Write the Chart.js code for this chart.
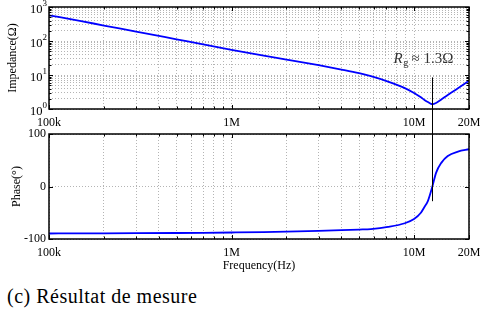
<!DOCTYPE html>
<html>
<head>
<meta charset="utf-8">
<script src="https://cdn.jsdelivr.net/npm/chart.js@4.4.1/dist/chart.umd.min.js"></script>
<style>
html, body { margin: 0; padding: 0; background: #fff; }
#wrap { position: relative; width: 480px; height: 313px; overflow: hidden; background: #fff; }
canvas { position: absolute; left: 0; }
#impCanvas { top: 0; }
#phaseCanvas { top: 122px; }
#caption { position: absolute; left: 7px; top: 286px; font: 20px/1 "Liberation Serif", "DejaVu Serif", serif; letter-spacing: 0.5px; color: #000; white-space: nowrap; }
</style>
</head>
<body>
<div id="wrap">
  <canvas id="impCanvas" width="480" height="132"></canvas>
  <canvas id="phaseCanvas" width="480" height="152"></canvas>
  <div id="caption">(c) Résultat de mesure</div>
</div>
<script>
const freq = [1e5, 1.5e5, 2e5, 3e5, 5e5, 7e5, 1e6, 1.5e6, 2e6, 3e6, 4e6, 5e6, 5.8e6, 7.2e6, 8.9e6,
              1e7, 1.09e7, 1.14e7, 1.19e7, 1.26e7, 1.32e7, 1.41e7, 1.53e7, 1.74e7, 2e7];
const impedance = [570, 385, 285, 190, 112, 79, 55, 37, 28.5, 19.5, 14.5, 11.3, 9.2, 6.4, 4.1,
                   2.95, 2.2, 1.85, 1.6, 1.38, 1.5, 1.9, 2.6, 4.1, 6.8];
const phase = [-89.5, -89.3, -89.2, -89.0, -88.6, -88.2, -87.6, -86.8, -86.0, -84.5, -83.2, -82, -81, -77, -70,
               -62, -50, -39, -28, 0, 26, 45, 58, 66.5, 71];

// axes
const xTickValues = [1e5, 2e5, 3e5, 4e5, 5e5, 6e5, 7e5, 8e5, 9e5,
                     1e6, 2e6, 3e6, 4e6, 5e6, 6e6, 7e6, 8e6, 9e6, 1e7, 2e7];
const xLabelValues = [1e5, 1e6, 1e7, 2e7];
const xLabelTexts = ['100k', '1M', '10M', '20M'];
const impTickValues = [1, 2, 3, 4, 5, 6, 7, 8, 9, 10, 20, 30, 40, 50, 60, 70, 80, 90,
                       100, 200, 300, 400, 500, 600, 700, 800, 900, 1000];
const impMajor = [1, 10, 100, 1000];
const impPowers = ['0', '1', '2', '3'];
const phaseTickValues = [-100, 0, 100];

// marker at the series resonance
const markerFreq = 1.26e7;
const markerImpTop = 8.5;
const markerPhaseBottom = -28;
const annotImp = 22;

const serif = '"Liberation Serif", "DejaVu Serif", serif';

function points(ys) {
    return freq.map(function(f, i) { return {x: f, y: ys[i]}; });
}

function xLabel(value) {
    const i = xLabelValues.indexOf(value);
    return i == -1 ? '' : xLabelTexts[i];
}

const framePlugin = {
    id: 'frame',
    afterDraw(chart, args, opts) {
        const ctx = chart.ctx;
        const a = chart.chartArea;
        const sx = chart.scales.x;
        const sy = chart.scales.y;
        ctx.save();
        ctx.setLineDash([]);
        ctx.strokeStyle = '#000';

        // inward tick marks on all four sides
        ctx.lineWidth = 1;
        ctx.beginPath();
        sx.ticks.forEach(function(t) {
            const px = Math.round(sx.getPixelForValue(t.value)) + 0.5;
            const len = xLabelValues.indexOf(t.value) != -1 ? 4 : 2.5;
            ctx.moveTo(px, a.bottom); ctx.lineTo(px, a.bottom - len);
            ctx.moveTo(px, a.top); ctx.lineTo(px, a.top + len);
        });
        sy.ticks.forEach(function(t) {
            const py = Math.round(sy.getPixelForValue(t.value)) + 0.5;
            const len = opts.yMajor.indexOf(t.value) != -1 ? 4 : 2.5;
            ctx.moveTo(a.left, py); ctx.lineTo(a.left + len, py);
            ctx.moveTo(a.right, py); ctx.lineTo(a.right - len, py);
        });
        ctx.stroke();

        ctx.lineWidth = 1.5;
        ctx.strokeRect(a.left, a.top, a.right - a.left, a.bottom - a.top);

        // marker line
        const mx = Math.round(sx.getPixelForValue(markerFreq)) + 0.5;
        const y0 = opts.markerFrom == null ? 0 : sy.getPixelForValue(opts.markerFrom);
        const y1 = opts.markerTo == null ? chart.height : sy.getPixelForValue(opts.markerTo);
        ctx.lineWidth = 1;
        ctx.beginPath();
        ctx.moveTo(mx, y0);
        ctx.lineTo(mx, y1);
        ctx.stroke();

        // 10^n labels
        if (opts.powers) {
            ctx.fillStyle = '#000';
            ctx.textBaseline = 'alphabetic';
            opts.yMajor.forEach(function(v, i) {
                const py = sy.getPixelForValue(v);
                ctx.font = '9px ' + serif;
                ctx.textAlign = 'right';
                const ew = ctx.measureText(opts.powers[i]).width;
                ctx.fillText(opts.powers[i], a.left - 2, py - 1.5);
                ctx.font = '12.5px ' + serif;
                ctx.fillText('10', a.left - 2 - ew, py + 6);
            });
        }

        // annotation
        if (opts.annot) {
            const by = sy.getPixelForValue(annotImp);
            let x = mx - 39;
            ctx.fillStyle = '#333';
            ctx.textAlign = 'left';
            ctx.textBaseline = 'alphabetic';
            ctx.font = 'italic 15px ' + serif;
            ctx.fillText('R', x, by);
            x += ctx.measureText('R').width + 0.5;
            ctx.font = '10.5px ' + serif;
            ctx.fillText('g', x, by + 3);
            x += ctx.measureText('g').width + 3;
            ctx.font = '15px ' + serif;
            ctx.fillText('\u2248 1.3\u03A9', x, by);
        }
        ctx.restore();
    }
};

function xScale(height, pad) {
    return {
        type: 'logarithmic',
        min: 1e5,
        max: 2e7,
        afterBuildTicks: function(s) {
            s.ticks = xTickValues.map(function(v) { return {value: v}; });
        },
        afterFit: function(s) {
            s.height = height;
            s.paddingLeft = 0;
            s.paddingRight = 0;
        },
        ticks: {
            autoSkip: false,
            maxRotation: 0,
            padding: pad,
            color: '#000',
            font: {family: serif, size: 12},
            callback: xLabel,
        },
        grid: {color: '#b4b4b4', lineWidth: 1, drawTicks: false},
        border: {display: false, dash: [1, 2]},
    };
}

const impConfig = {
    type: 'line',
    data: {
        datasets: [{
            data: points(impedance),
            borderColor: '#0000ff',
            borderWidth: 1.8,
            pointRadius: 0,
            cubicInterpolationMode: 'monotone',
            fill: false,
        }],
    },
    options: {
        responsive: false,
        animation: false,
        devicePixelRatio: 1,
        events: [],
        layout: {padding: {left: 0, right: 11, top: 7, bottom: 0}},
        plugins: {
            legend: {display: false},
            tooltip: {enabled: false},
            frame: {yMajor: impMajor, powers: impPowers, markerFrom: markerImpTop, markerTo: null, annot: true},
        },
        scales: {
            x: xScale(23, 6.2),
            y: {
                type: 'logarithmic',
                min: 1,
                max: 1000,
                afterBuildTicks: function(s) {
                    s.ticks = impTickValues.map(function(v) { return {value: v}; });
                },
                afterFit: function(s) {
                    s.width = 49;
                    s.paddingTop = 0;
                    s.paddingBottom = 0;
                },
                ticks: {display: false},
                title: {
                    display: true,
                    text: 'Impedance(\u03A9)',
                    color: '#000',
                    font: {family: serif, size: 12},
                    padding: {top: 6, bottom: 0},
                },
                grid: {color: '#b4b4b4', lineWidth: 1, drawTicks: false},
                border: {display: false, dash: [1, 2]},
            },
        },
    },
    plugins: [framePlugin],
};

const phaseConfig = {
    type: 'line',
    data: {
        datasets: [{
            data: points(phase),
            borderColor: '#0000ff',
            borderWidth: 1.8,
            pointRadius: 0,
            cubicInterpolationMode: 'monotone',
            fill: false,
        }],
    },
    options: {
        responsive: false,
        animation: false,
        devicePixelRatio: 1,
        events: [],
        layout: {padding: {left: 0, right: 11, top: 12, bottom: 0}},
        plugins: {
            legend: {display: false},
            tooltip: {enabled: false},
            frame: {yMajor: phaseTickValues, powers: null, markerFrom: null, markerTo: markerPhaseBottom, annot: false},
        },
        scales: {
            x: Object.assign(xScale(35, 6.8), {
                title: {
                    display: true,
                    text: 'Frequency(Hz)',
                    color: '#000',
                    font: {family: serif, size: 12},
                    padding: {top: 0, bottom: 0.8},
                },
            }),
            y: {
                type: 'linear',
                min: -100,
                max: 100,
                afterBuildTicks: function(s) {
                    s.ticks = phaseTickValues.map(function(v) { return {value: v}; });
                },
                afterFit: function(s) {
                    s.width = 49;
                    s.paddingTop = 0;
                    s.paddingBottom = 0;
                },
                ticks: {
                    padding: 3,
                    color: '#000',
                    font: {family: serif, size: 12},
                },
                title: {
                    display: true,
                    text: 'Phase(\u00B0)',
                    color: '#000',
                    font: {family: serif, size: 12},
                    padding: {top: 9.5, bottom: 0},
                },
                grid: {color: '#b4b4b4', lineWidth: 1, drawTicks: false},
                border: {display: false, dash: [1, 2]},
            },
        },
    },
    plugins: [framePlugin],
};

const impChart = new Chart(document.getElementById('impCanvas'), impConfig);
const phaseChart = new Chart(document.getElementById('phaseCanvas'), phaseConfig);
</script>
</body>
</html>
